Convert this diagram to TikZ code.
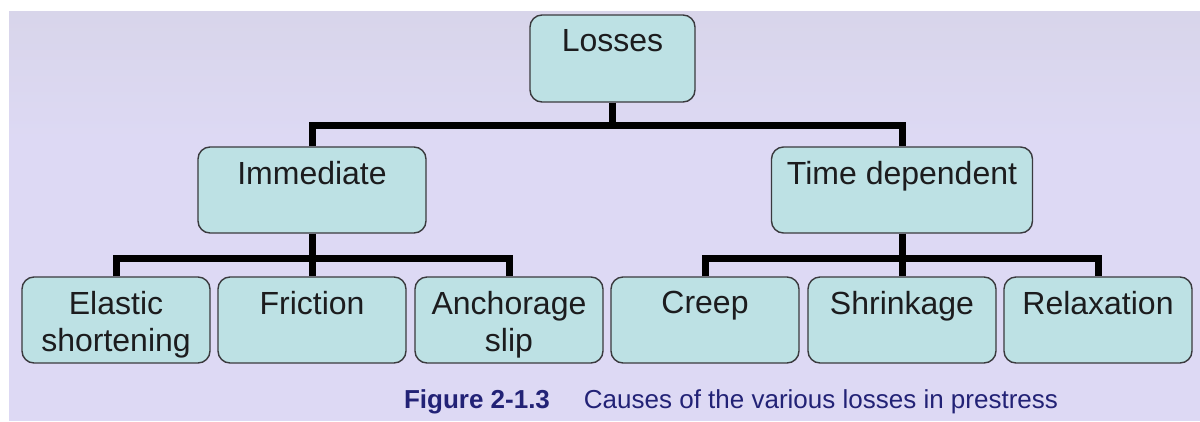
\documentclass[tikz,border=0pt]{standalone}
\usepackage{fontspec}
\setmainfont{Liberation Sans}
\usetikzlibrary{calc}

\definecolor{pagebg}{RGB}{255,255,255}
\definecolor{lavender}{RGB}{221,217,244}
\definecolor{lavtop}{RGB}{216,213,234}
\definecolor{boxfill}{RGB}{189,225,228}
\definecolor{boxline}{RGB}{58,58,62}
\definecolor{textc}{RGB}{28,28,30}
\definecolor{capblue}{RGB}{34,34,118}

\newcommand{\boxfont}{\fontsize{32bp}{37bp}\selectfont}
\newcommand{\capfont}{\fontsize{26bp}{30bp}\selectfont}

\tikzset{
  cause/.style={draw=boxline, fill=boxfill, line width=1.4bp,
    rounded corners=12bp, inner sep=0pt},
  leaf/.style={cause, minimum width=188bp, minimum height=86bp},
  mid/.style={cause, minimum height=86bp},
  label text/.style={font=\boxfont, text=textc, align=center,
    anchor=north, inner sep=0pt},
  conn/.style={draw=black, line width=7bp, line cap=butt, line join=miter},
}

\begin{document}
\begin{tikzpicture}[x=1bp, y=-1bp]
  % page and tinted panel
  \fill[pagebg] (0,0) rectangle (1200,421);
  \useasboundingbox (0,0) rectangle (1200,421);
  \fill[lavender] (9,11) rectangle (1200,421);
  \shade[top color=lavtop, bottom color=lavender] (9,11) rectangle (1200,140);

  % tree nodes
  \node[mid, minimum width=165bp, minimum height=87bp] (loss) at (612.5,58.5) {};
  \node[mid, minimum width=228bp] (imm) at (312,190) {};
  \node[mid, minimum width=261bp] (td)  at (902,190) {};

  \node[leaf] (ela) at (116,320) {};
  \node[leaf] (fri) at (312,320) {};
  \node[leaf] (anc) at (509,320) {};
  \node[leaf] (cre) at (705,320) {};
  \node[leaf] (shr) at (902,320) {};
  \node[leaf] (rel) at (1098,320) {};

  % box texts, set near the top edge
  \node[label text] (lossT) at ($(loss.north)+(0,14.5)$) {Losses};
  \node[label text] (immT)  at ($(imm.north)+(0,14.5)$) {Immediate};
  \node[label text] (tdT)   at ($(td.north)+(0,14.5)$) {Time dependent};
  \node[label text] (elaT)  at ($(ela.north)+(0,14.5)$) {Elastic\\shortening};
  \node[label text] (friT)  at ($(fri.north)+(0,14.5)$) {Friction};
  \node[label text] (ancT)  at ($(anc.north)+(0,14.5)$) {Anchorage\\slip};
  \node[label text] (creT)  at ($(cre.north)+(0,14.5)$) {Creep};
  \node[label text] (shrT)  at ($(shr.north)+(0,14.5)$) {Shrinkage};
  \node[label text] (relT)  at ($(rel.north)+(0,14.5)$) {Relaxation};

  % connectors
  \coordinate (top) at (612.5,125);
  \coordinate (left) at (312,258);
  \coordinate (right) at (902,258);
  \draw[conn] (loss.south) -- (top);
  \draw[conn] (imm.north) |- (top) -| (td.north);
  \draw[conn] (imm.south) -- (fri.north);
  \draw[conn] (ela.north) |- (left) -| (anc.north);
  \draw[conn] (td.south) -- (shr.north);
  \draw[conn] (cre.north) |- (right) -| (rel.north);

  % caption
  \node[anchor=base, inner sep=0pt, text=capblue, font=\capfont] (caption)
    at (731,408) {\textbf{Figure 2-1.3}\hspace{34bp}Causes of the various losses in prestress};
\end{tikzpicture}
\end{document}
